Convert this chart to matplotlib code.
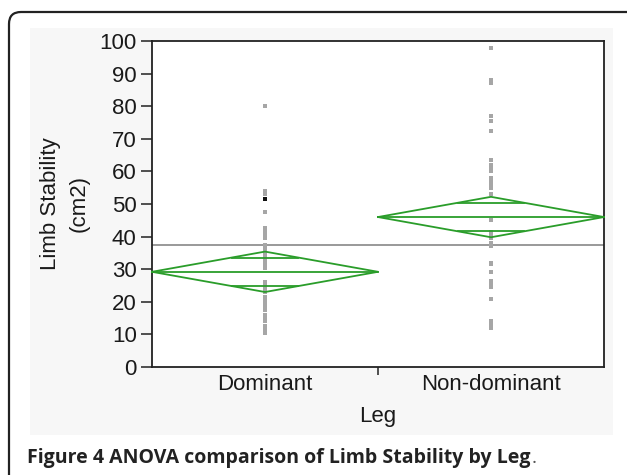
import numpy as np
import matplotlib.pyplot as plt
from matplotlib.patches import FancyBboxPatch, Rectangle
from matplotlib.transforms import IdentityTransform

# ---- data ----
legs = ["Dominant", "Non-dominant"]
dominant_pts = [80, 54, 53, 47.5, 42.5, 41.5, 40.5, 39.5, 37.5, 36.5, 35.5,
                34.5, 33.5, 32.5, 31.5, 30.5, 26, 25, 24, 23, 21.5, 20.5,
                19.5, 18.5, 17.5, 16, 15, 14, 12.5, 11.5, 10.5]
dominant_sel = [51.5]
nondom_pts = [98, 88, 87, 77, 75.5, 72.5, 63.5, 62, 61, 60, 58, 57, 56, 55,
              53, 45, 41.5, 40.5, 39.5, 38, 37, 32, 31.5, 29, 26.5, 25.5,
              24.5, 21, 14, 13, 12]
group_means = [29.2, 46.0]
ci_half = [6.2, 6.2]
grand_mean = 37.5
yticks = [0, 10, 20, 30, 40, 50, 60, 70, 80, 90, 100]

W, H = 627, 475
fig = plt.figure(figsize=(W / 100, H / 100), dpi=100)
fig.patch.set_facecolor("white")

# rounded frame round the whole figure block
frame = FancyBboxPatch((9, -40), 640, H - 12 + 40,
                       boxstyle="round,pad=0,rounding_size=12",
                       transform=IdentityTransform(), facecolor="white",
                       edgecolor="#222222", linewidth=1.6, zorder=-2)
fig.patches.append(frame)
# light grey panel behind the chart
panel = Rectangle((30 / W, 1 - 435 / H), 583 / W, 407 / H,
                  transform=fig.transFigure, facecolor="#f7f7f7",
                  edgecolor="none", zorder=-1)
fig.patches.append(panel)

ax = fig.add_axes([152 / W, 1 - 367 / H, 452 / W, 326 / H])
ax.set_zorder(5)
ax.set_facecolor("white")

green = "#2a9d2a"
all_pts = [dominant_pts, nondom_pts]
for i, (m, h) in enumerate(zip(group_means, ci_half)):
    x0, xc, x1 = i, i + 0.5, i + 1
    # diamond
    ax.plot([x0, xc, x1, xc, x0], [m, m + h, m, m - h, m],
            color=green, lw=1.3, zorder=3, clip_on=False)
    ax.plot([x0, x1], [m, m], color=green, lw=1.3, zorder=3, clip_on=False)
    # overlap marks
    d = h / np.sqrt(2)
    frac = 1 - d / h
    for yy in (m + d, m - d):
        ax.plot([xc - 0.5 * frac, xc + 0.5 * frac], [yy, yy],
                color=green, lw=1.3, zorder=3)
    ax.plot(np.full(len(all_pts[i]), xc), all_pts[i], ls="none", marker="s",
            ms=2.8, mew=0, color="#a6a6a6", zorder=2)

ax.plot([0.5] * len(dominant_sel), dominant_sel, ls="none", marker="s",
        ms=2.8, mew=0, color="#111111", zorder=4)
ax.axhline(grand_mean, color="#878787", lw=1.2, zorder=1)

ax.set_xlim(0, 2)
ax.set_ylim(0, 100)
ax.set_yticks(yticks)
ax.set_xticks([0.5, 1.5])
ax.set_xticklabels(legs)
ax.set_xticks([1.0], minor=True)
ax.tick_params(axis="x", which="major", length=0, pad=5)
ax.tick_params(axis="x", which="minor", length=6, width=1.1, color="#222222")
ax.tick_params(axis="y", length=8, width=1.1, pad=3, color="#222222")
ax.tick_params(labelsize=16, labelcolor="#1a1a1a")
for lab in ax.get_xticklabels() + ax.get_yticklabels():
    lab.set_fontfamily("Liberation Sans")
for s in ax.spines.values():
    s.set_linewidth(1.3)
    s.set_color("#222222")

ax.set_xlabel("Leg", fontsize=16, family="Liberation Sans", color="#1a1a1a",
              labelpad=8)
ax.set_ylabel("Limb Stability\n(cm2)", fontsize=16, family="Liberation Sans",
              color="#1a1a1a", labelpad=7, linespacing=1.5)

# caption
cap = fig.text(27 / W, 1 - 463 / H,
               "Figure 4 ANOVA comparison of Limb Stability by Leg",
               fontsize=14, family="Open Sans", weight="bold",
               color="#222222", va="baseline")
fig.canvas.draw()
bb = cap.get_window_extent()
fig.text(bb.x1 / W + 1 / W, 1 - 463 / H, ".", fontsize=14, family="Open Sans",
         color="#555555", va="baseline")

fig.savefig("out.png", dpi=100)
